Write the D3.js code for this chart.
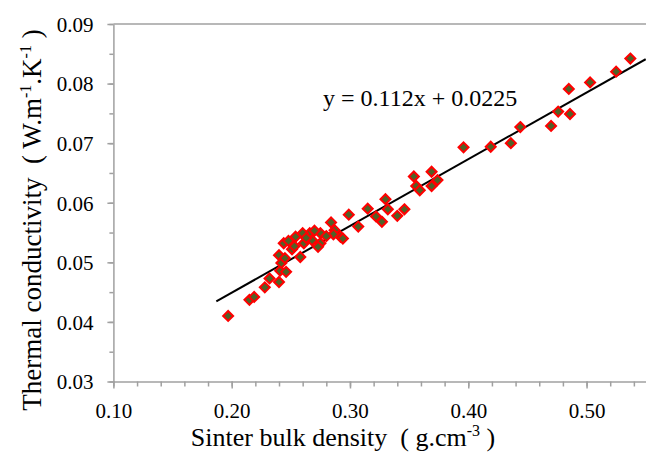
<!DOCTYPE html>
<html>
<head>
<meta charset="utf-8">
<script src="https://cdn.jsdelivr.net/npm/d3@7"></script>
<style>
  body { margin: 0; background: #fff; }
  text { font-family: "Liberation Serif", "Times New Roman", serif; }
</style>
</head>
<body>
<div id="chart"></div>
<script>
// density (g.cm-3)
var densityh = [0.197,0.215,0.219,0.228,0.232,0.240,0.241,0.246,0.242,0.240,
  0.244,0.251,0.254,0.258,0.261,0.266,0.268,0.275,0.275,0.284,
  0.287,0.292,0.294,0.299,0.307,0.315,0.322,0.327,0.330,0.332,
  0.340,0.346,0.354,0.356,0.359,0.369,0.369,0.374,0.396,0.419,
  0.436,0.444,0.470,0.476,0.485,0.486,0.503,0.525,0.537,
  0.260,0.270,0.273,0.286,0.248,0.263,0.280,0.253,0.245]
// thermal conductivity (W.m-1.K-1)
var conductivityh = [0.0410,0.0437,0.0442,0.0458,0.0473,0.0467,0.0486,0.0484,0.0499,0.0512,
  0.0532,0.0522,0.0543,0.0509,0.0532,0.0549,0.0537,0.0532,0.0549,0.0567,
  0.0554,0.0543,0.0540,0.0580,0.0560,0.0590,0.0577,0.0568,0.0606,0.0589,
  0.0578,0.0589,0.0644,0.0628,0.0621,0.0652,0.0628,0.0638,0.0693,0.0694,
  0.0700,0.0727,0.0729,0.0753,0.0791,0.0749,0.0802,0.0820,0.0842,
  0.0549,0.0553,0.0526,0.0547,0.0536,0.0541,0.0544,0.0527,0.0507]
var xticksh = [0.10,0.20,0.30,0.40,0.50]
var yticksh = [0.03,0.04,0.05,0.06,0.07,0.08,0.09]
var slopeh = 0.112, intercepth = 0.0225
var fitrangeh = [0.187, 0.55]

var widthh = 646, heighth = 452
var serifh = "'Liberation Serif', 'Times New Roman', serif"
var svgh = d3.select("#chart").append("svg")
  .attr("width", widthh).attr("height", heighth)

var xh = d3.scaleLinear().domain([0.10, 0.55]).range([113.4, 645.7])
var yh = d3.scaleLinear().domain([0.03, 0.09]).range([381.5, 24])
var grayh = "#a0a0a0"

// top border of the plot area
svgh.append("line")
  .attr("x1", xh(0.10)).attr("x2", widthh)
  .attr("y1", yh(0.09)).attr("y2", yh(0.09))
  .attr("stroke", grayh).attr("stroke-width", 1.5)

// x axis: minor + major ticks
var xminorh = d3.range(0.10, 0.551, 0.02)
svgh.append("g").attr("transform", "translate(0," + yh(0.03) + ")")
  .call(d3.axisBottom(xh).tickValues(xminorh).tickSize(5).tickFormat("").tickSizeOuter(0))
  .call(g => g.selectAll("line,path").attr("stroke", grayh).attr("stroke-width", 1.5))
var xaxish = svgh.append("g").attr("transform", "translate(0," + yh(0.03) + ")")
  .call(d3.axisBottom(xh).tickValues(xticksh).tickSize(7).tickFormat(d3.format(".2f")).tickSizeOuter(0))
  .attr("font-family", serifh).attr("font-size", 21)
xaxish.select(".domain").remove()
xaxish.selectAll("line").attr("stroke", grayh).attr("stroke-width", 1.5)
xaxish.selectAll("text").attr("y", 36).attr("dy", 0).attr("fill", "#000")

// y axis
var yminorh = d3.range(0.03, 0.0901, 0.005)
svgh.append("g").attr("transform", "translate(" + xh(0.10) + ",0)")
  .call(d3.axisLeft(yh).tickValues(yminorh).tickSize(4).tickFormat("").tickSizeOuter(0))
  .call(g => g.selectAll("line,path").attr("stroke", grayh).attr("stroke-width", 1.5))
var yaxish = svgh.append("g").attr("transform", "translate(" + xh(0.10) + ",0)")
  .call(d3.axisLeft(yh).tickValues(yticksh).tickSize(6).tickFormat(d3.format(".2f")).tickSizeOuter(0))
  .attr("font-family", serifh).attr("font-size", 21)
yaxish.select(".domain").remove()
yaxish.selectAll("line").attr("stroke", grayh).attr("stroke-width", 1.5)
yaxish.selectAll("text").attr("x", -20).attr("dy", "0.35em").attr("fill", "#000")

// trend line
svgh.append("line")
  .attr("x1", xh(fitrangeh[0])).attr("y1", yh(slopeh * fitrangeh[0] + intercepth))
  .attr("x2", xh(fitrangeh[1])).attr("y2", yh(slopeh * fitrangeh[1] + intercepth))
  .attr("stroke", "#000").attr("stroke-width", 2)

// diamonds
var rh = 5
svgh.append("g").selectAll("path")
  .data(densityh)
  .enter().append("path")
  .attr("d", "M0," + (-rh) + "L" + rh + ",0L0," + rh + "L" + (-rh) + ",0Z")
  .attr("transform", (d, i) => "translate(" + xh(d) + "," + yh(conductivityh[i]) + ")")
  .attr("fill", "#4f6228")
  .attr("stroke", "#ff0000")
  .attr("stroke-width", 2)

// equation
svgh.append("text")
  .attr("x", 323).attr("y", 106)
  .attr("font-size", 24)
  .text("y = " + slopeh + "x + " + intercepth)

// x title
var xtitleh = svgh.append("text")
  .attr("x", 343).attr("y", 446)
  .attr("text-anchor", "middle")
  .attr("font-size", 26)
xtitleh.append("tspan").text("Sinter bulk density\u00a0\u00a0( g.cm")
xtitleh.append("tspan").attr("font-size", 16).attr("dy", -10).text("-3")
xtitleh.append("tspan").attr("dy", 10).text(" )")

// y title
var ytitleh = svgh.append("text")
  .attr("transform", "translate(41,220) rotate(-90)")
  .attr("text-anchor", "middle")
  .attr("font-size", 27)
ytitleh.append("tspan").text("Thermal conductivity\u00a0\u00a0( W.m")
ytitleh.append("tspan").attr("font-size", 16).attr("dy", -10).text("-1")
ytitleh.append("tspan").attr("dy", 10).text(".K")
ytitleh.append("tspan").attr("font-size", 16).attr("dy", -10).text("-1")
ytitleh.append("tspan").attr("dy", 10).text(" )")
</script>
</body>
</html>
